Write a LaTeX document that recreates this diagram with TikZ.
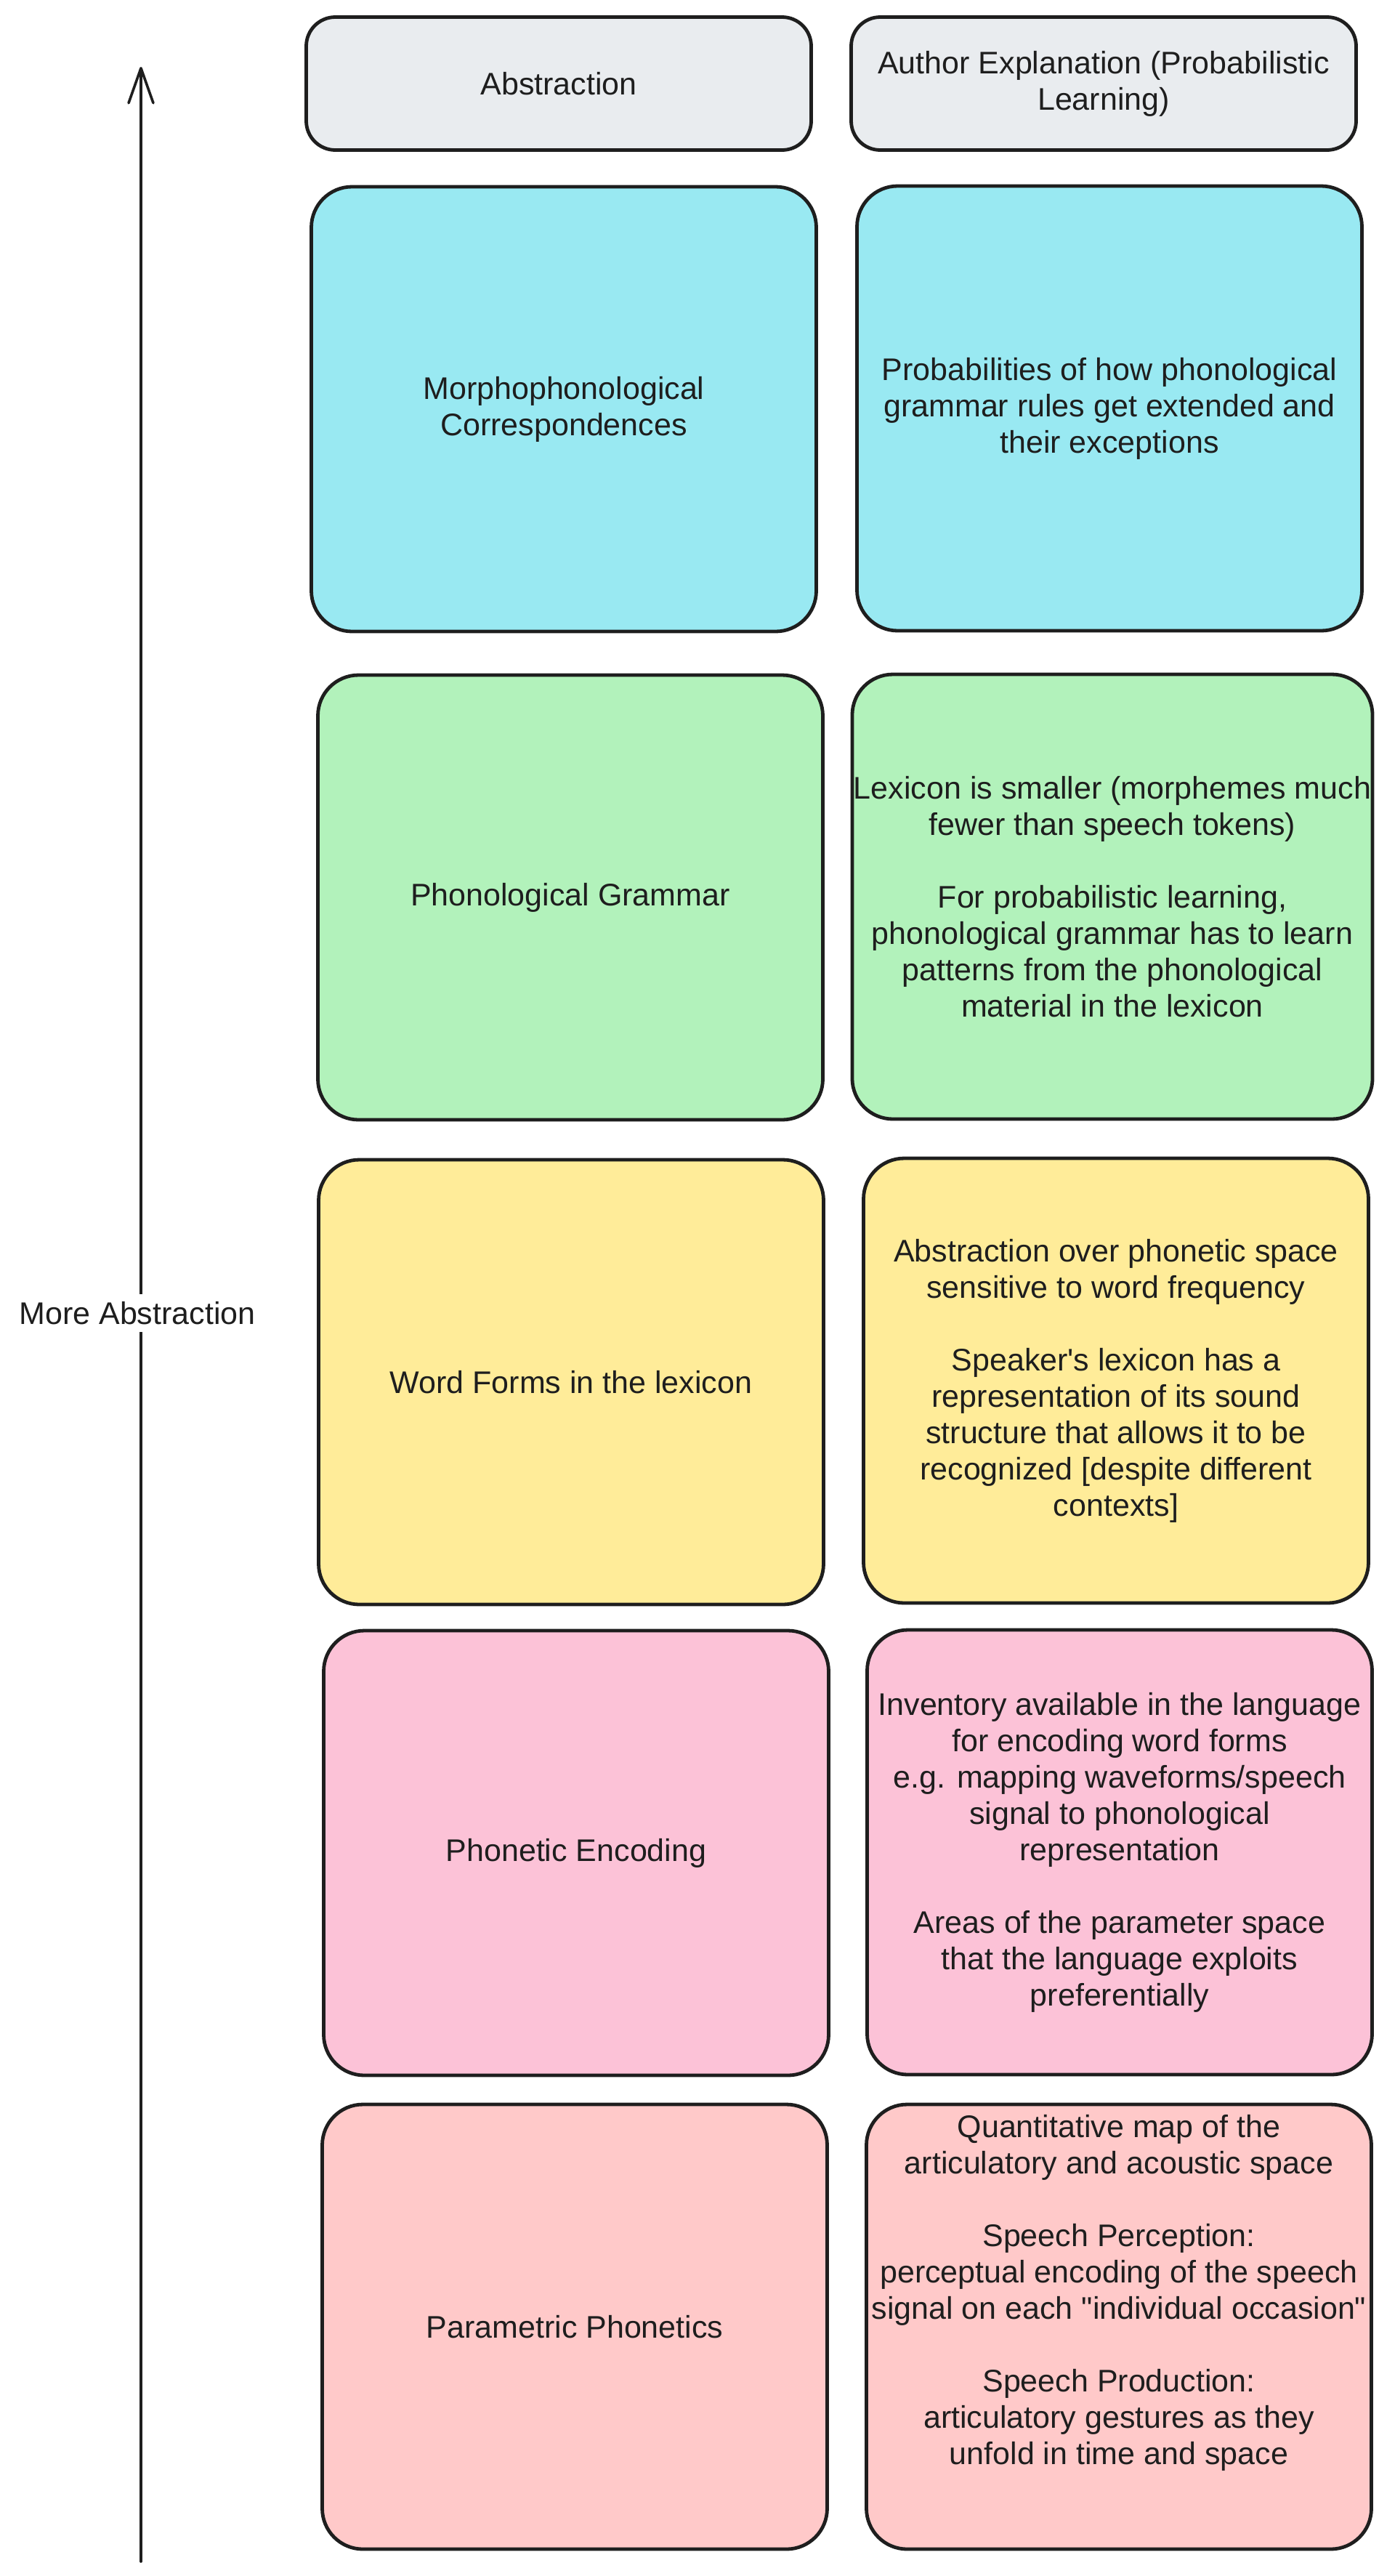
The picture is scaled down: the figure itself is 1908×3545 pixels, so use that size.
\documentclass[tikz,border=0pt]{standalone}
\usepackage{fontspec}
\setmainfont{Liberation Sans}
\usetikzlibrary{arrows.meta}

\definecolor{ink}{HTML}{1E1E1E}
\definecolor{headgray}{HTML}{E9ECEF}
\definecolor{cyanbox}{HTML}{99E9F2}
\definecolor{greenbox}{HTML}{B2F2BB}
\definecolor{yellowbox}{HTML}{FFEC99}
\definecolor{pinkbox}{HTML}{FCC2D7}
\definecolor{redbox}{HTML}{FFC9C9}

% straight quote marks, past the TeX ligature mapping
\newcommand{\plainquote}{\XeTeXglyph\XeTeXcharglyph"0022\relax}
\newcommand{\plainapos}{\XeTeXglyph\XeTeXcharglyph"0027\relax}

\begin{document}
\begin{tikzpicture}[x=0.5pt,y=-0.5pt,
    txt/.style={text=ink,align=center,font=\fontsize{21.5}{25}\selectfont},
    box/.style={txt,draw=ink,line width=2.4pt,rounded corners=28pt,inner xsep=1pt,
        minimum width=347.5pt,minimum height=306pt},
    head/.style={box,rounded corners=20pt,minimum height=91.5pt}]
    \useasboundingbox (0,0) rectangle (1908,3545);

    % header row
    \node[head,fill=headgray] (abs0) at (769,115) {Abstraction};
    \node[head,fill=headgray] (expl0) at (1519,115) {Author Explanation (Probabilistic\\Learning)};

    % left column: levels of abstraction
    \node[box,fill=cyanbox] (abs1) at (776,563) {Morphophonological\\Correspondences};
    \node[box,fill=greenbox] (abs2) at (785,1235) {Phonological Grammar};
    \node[box,fill=yellowbox] (abs3) at (786,1902) {Word Forms in the lexicon};
    \node[box,fill=pinkbox] (abs4) at (793,2550) {Phonetic Encoding};
    \node[box,fill=redbox] (abs5) at (791,3202) {Parametric Phonetics};

    % right column: explanations
    \node[box,fill=cyanbox] (expl1) at (1527,562) {Probabilities of how phonological\\grammar rules get extended and\\their exceptions};
    \node[box,fill=greenbox] (expl2) at (1531,1234) {Lexicon is smaller (morphemes much\\fewer than speech tokens)\\[25pt]For probabilistic learning,\\phonological grammar has to learn\\patterns from the phonological\\material in the lexicon};
    \node[box,fill=yellowbox] (expl3) at (1536,1900) {Abstraction over phonetic space\\sensitive to word frequency\\[25pt]Speaker\plainapos s lexicon has a\\representation of its sound\\structure that allows it to be\\recognized [despite different\\contexts]};
    \node[box,fill=pinkbox] (expl4) at (1541,2549) {Inventory available in the language\\for encoding word forms\\e.g. mapping waveforms/speech\\signal to phonological\\representation\\[25pt]Areas of the parameter space\\that the language exploits\\preferentially};
    \node[box,fill=redbox] (expl5) at (1540,3202) {};
    \node[txt] (expl5text) at (1540,3155) {Quantitative map of the\\articulatory and acoustic space\\[25pt]Speech Perception:\\perceptual encoding of the speech\\signal on each \plainquote individual occasion\plainquote\\[25pt]Speech Production:\\articulatory gestures as they\\unfold in time and space};

    % abstraction axis
    \coordinate (base) at (194,3525);
    \coordinate (top) at (194,92);
    \draw[ink,line width=1.8pt,line cap=round,-{Straight Barb[length=24pt,width=17pt,round]}] (base) -- (top);
    \node[txt,fill=white,inner sep=5pt] (more) at (189,1807) {More Abstraction};
\end{tikzpicture}
\end{document}
